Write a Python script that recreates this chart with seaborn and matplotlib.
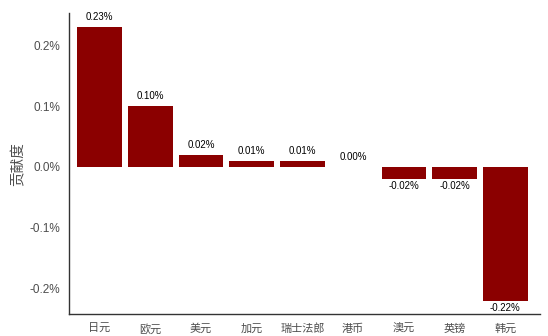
import matplotlib
matplotlib.use("Agg")
import matplotlib.pyplot as plt
import seaborn as sns
import pandas as pd
from matplotlib.ticker import FuncFormatter

categories = ["日元", "欧元", "美元", "加元", "瑞士法郎", "港币", "澳元", "英镑", "韩元"]
values = [0.23, 0.10, 0.02, 0.01, 0.01, 0.00, -0.02, -0.02, -0.22]
yticks = [-0.2, -0.1, 0.0, 0.1, 0.2]

sns.set_theme(style="white")
plt.rcParams['font.family'] = ['Noto Sans CJK SC', 'DejaVu Sans']

df = pd.DataFrame({"cat": categories, "val": values})

fig = plt.figure(figsize=(5.48, 3.36), dpi=100)
ax = fig.add_axes([0.126, 0.065, 0.859, 0.896])
sns.barplot(data=df, x="cat", y="val", color="#8B0000", width=0.88, ax=ax,
            saturation=1, linewidth=0)

for i, v in enumerate(values):
    if v >= 0:
        ax.text(i, v + 0.008, f"{v:.2f}%", ha="center", va="bottom", fontsize=7,
                family=["Liberation Sans", "DejaVu Sans"], color="black")
    else:
        ax.text(i, v - 0.003, f"{v:.2f}%", ha="center", va="top", fontsize=7,
                family=["Liberation Sans", "DejaVu Sans"], color="black")

ax.set_ylim(-0.242, 0.253)
ax.set_xlim(-0.6, 8.68)
ax.set_yticks(yticks)
ax.yaxis.set_major_formatter(FuncFormatter(lambda v, p: f"{v:.1f}%"))
for lab in ax.get_yticklabels():
    lab.set_family(["Liberation Sans", "DejaVu Sans"])
ax.tick_params(axis="both", colors="#4d4d4d", labelsize=8.5, length=3, width=0.8, direction="out")
ax.tick_params(axis="y", labelcolor="#4d4d4d")
ax.tick_params(axis="x", labelcolor="#4d4d4d", labelsize=8, pad=10)
ax.set_xticks(range(len(categories)), labels=categories, va="baseline",
              family="Noto Sans CJK SC")
ax.set_xlabel("")
ax.set_ylabel("贡献度", fontsize=10.5, color="#4d4d4d", labelpad=3)
for s in ["top", "right"]:
    ax.spines[s].set_visible(False)
for s in ["left", "bottom"]:
    ax.spines[s].set_color("#333333")
    ax.spines[s].set_linewidth(1.0)

fig.savefig("out.png", dpi=100)
